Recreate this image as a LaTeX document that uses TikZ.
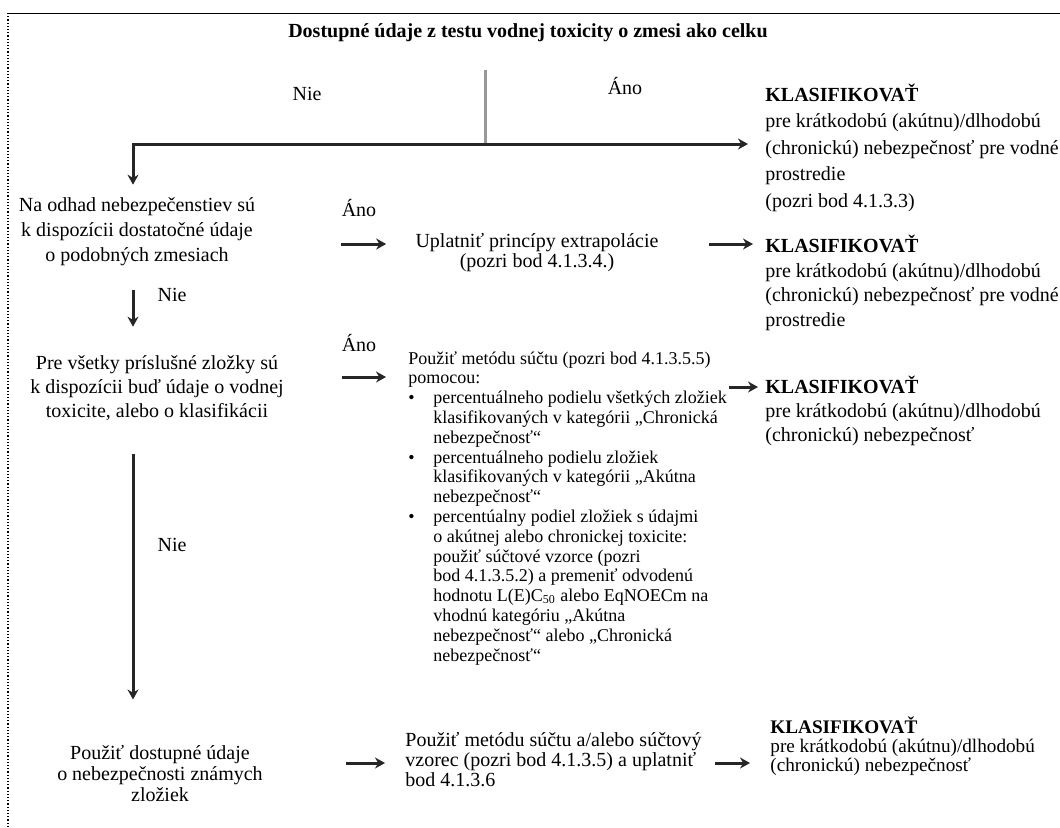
\documentclass[tikz,border=0pt]{standalone}
\usepackage{fontspec}
\setmainfont{Liberation Serif}
\usetikzlibrary{arrows.meta}

\def\xunit{0.5pt}
\def\yunit{0.5pt}

\newcommand{\fsz}[2]{\fontsize{#1}{#2}\selectfont}
\newcommand{\blt}{\makebox[12.5pt][l]{\textbullet}}
\newcommand{\ind}{\hspace*{12.5pt}}

% multi-line nodes sit on the baseline of their last line
\tikzset{
  txt/.style={inner sep=0pt, font=\fsz{10}{12}},
  askbox/.style={txt, align=center, anchor=base},
  result/.style={txt, align=left, anchor=base west},
  lbl/.style={txt, anchor=base},
  flow/.style={line width=1.5pt, draw=black!85, -{Stealth[length=5pt, width=5.5pt]}},
  stem/.style={line width=1.5pt, draw=black!40},
}

\begin{document}
\begin{tikzpicture}[x=\xunit, y=-\yunit]
\useasboundingbox (0,0) rectangle (1060,827);

% ---- frame, runs off the page on the right and at the bottom ----
\draw[line width=0.5pt] (8,13) -- (1060,13);
\draw[line width=0.6pt, densely dotted] (8,13) -- (8,827);

% ---- title and first split ----
\node[lbl, font=\fsz{10}{12}\bfseries] (titul) at (528,37)
  {Dostupné údaje z testu vodnej toxicity o zmesi ako celku};
\coordinate (split) at (485,144);
\coordinate (spine) at (133,0);
\node[lbl] (nie1) at (307,100) {Nie};
\node[lbl] (ano1) at (625,94) {Áno};

% ---- left column: questions ----
\node[askbox, font=\fsz{10}{12.5}] (q1) at (137,261)
  {Na odhad nebezpečenstiev sú\\k dispozícii dostatočné údaje\\o podobných zmesiach};
\node[askbox] (q2) at (157,417)
  {Pre všetky príslušné zložky sú\\k dispozícii buď údaje o vodnej\\toxicite, alebo o klasifikácii};
\node[askbox, font=\fsz{10}{10.5}] (q3) at (160,801)
  {Použiť dostupné údaje\\o nebezpečnosti známych\\zložiek};
\node[lbl] (nie2) at (172,301) {Nie};
\node[lbl] (nie3) at (172,551) {Nie};

% ---- middle column: methods ----
\node[lbl] (ano2) at (359,216) {Áno};
\node[lbl] (ano3) at (359,351) {Áno};
\node[askbox, font=\fsz{10}{10}] (m1) at (537,267)
  {Uplatniť princípy extrapolácie\\(pozri bod 4.1.3.4.)};
\node[result, font=\fsz{9}{9.9}] (m2) at (408,661)
  {Použiť metódu súčtu (pozri bod 4.1.3.5.5)\\
   pomocou:\\
   \blt percentuálneho podielu všetkých zložiek\\
   \ind klasifikovaných v kategórii „Chronická\\
   \ind nebezpečnosť“\\
   \blt percentuálneho podielu zložiek\\
   \ind klasifikovaných v kategórii „Akútna\\
   \ind nebezpečnosť“\\
   \blt percentúalny podiel zložiek s údajmi\\
   \ind o akútnej alebo chronickej toxicite:\\
   \ind použiť súčtové vzorce (pozri\\
   \ind bod 4.1.3.5.2) a premeniť odvodenú\\
   \ind hodnotu L(E)C\textsubscript{50} alebo EqNOECm na\\
   \ind vhodnú kategóriu „Akútna\\
   \ind nebezpečnosť“ alebo „Chronická\\
   \ind nebezpečnosť“};
\node[result, font=\fsz{10}{10}] (m3) at (405,786)
  {Použiť metódu súčtu a/alebo súčtový\\vzorec (pozri bod 4.1.3.5) a uplatniť\\bod 4.1.3.6};

% ---- right column: results ----
\node[result, font=\fsz{10}{13.25}] (k1) at (765,207)
  {\textbf{KLASIFIKOVAŤ}\\pre krátkodobú (akútnu)/dlhodobú\\(chronickú) nebezpečnosť pre vodné\\prostredie\\(pozri bod 4.1.3.3)};
\node[result, font=\fsz{10}{12.2}] (k2) at (765,326)
  {\textbf{KLASIFIKOVAŤ}\\pre krátkodobú (akútnu)/dlhodobú\\(chronickú) nebezpečnosť pre vodné\\prostredie};
\node[result, font=\fsz{10}{11.8}] (k3) at (765,441)
  {\textbf{KLASIFIKOVAŤ}\\pre krátkodobú (akútnu)/dlhodobú\\(chronickú) nebezpečnosť};
\node[result, font=\fsz{9.6}{9.3}] (k4) at (770,771)
  {\textbf{KLASIFIKOVAŤ}\\pre krátkodobú (akútnu)/dlhodobú\\(chronickú) nebezpečnosť};

% ---- connectors ----
\coordinate (r1) at (0,244);
\coordinate (r2) at (0,377);
\coordinate (r2k) at (0,387);
\coordinate (r3) at (0,763);

\draw[stem, shorten <=14pt] (split |- titul.south) -- (split);
\draw[flow, shorten >=8.5pt] (split) -- (split -| k1.west);
\draw[flow, shorten >=6pt] (split) -| (q1.north -| spine);

\draw[flow, shorten <=12pt, shorten >=14pt] (q1.south -| spine) -- (q2.north -| spine);
\draw[flow, shorten <=17pt, shorten >=22.5pt] (q2.south -| spine) -- (q3.north -| spine);

\draw[flow, shorten <=43pt, shorten >=14.5pt] (q1.east |- r1) -- (m1.west |- r1);
\draw[flow, shorten <=25pt, shorten >=6pt] (m1.east |- r1) -- (k2.west |- r1);
\draw[flow, shorten <=29pt, shorten >=11pt] (q2.east |- r2) -- (m2.west |- r2);
\draw[flow, shorten <=1pt, shorten >=3.5pt] (m2.east |- r2k) -- (k3.west |- r2k);
\draw[flow, shorten <=41.5pt, shorten >=10pt] (q3.east |- r3) -- (m3.west |- r3);
\draw[flow, shorten <=6.5pt, shorten >=10pt] (m3.east |- r3) -- (k4.west |- r3);

\end{tikzpicture}
\end{document}
